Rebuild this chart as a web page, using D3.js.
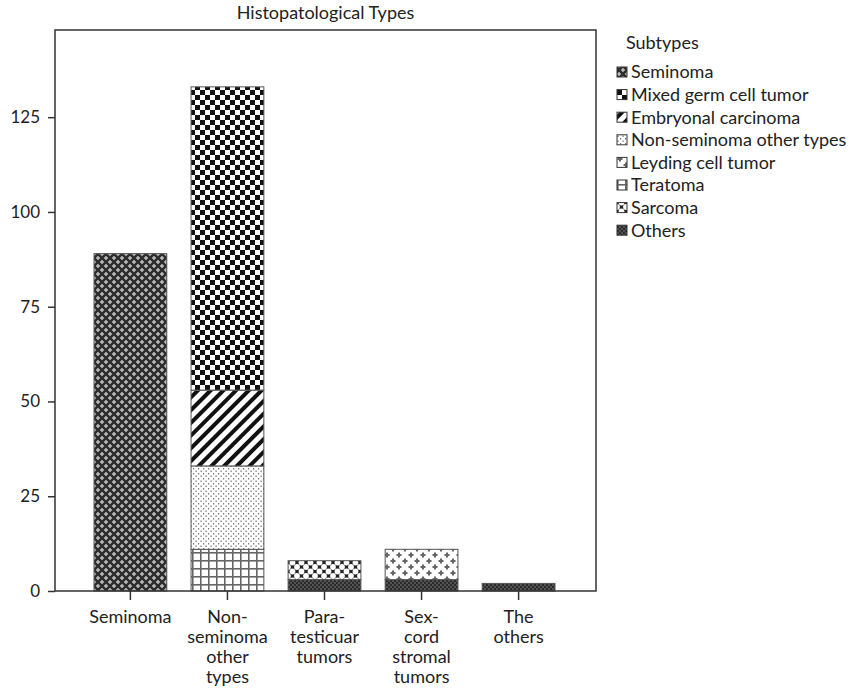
<!DOCTYPE html>
<html>
<head>
<meta charset="utf-8">
<script src="https://cdn.jsdelivr.net/npm/d3@7"></script>
<style>
  body { margin: 0; background: #fff; }
  svg { display: block; font-family: Lato, "Open Sans", sans-serif; }
</style>
</head>
<body>
<div id="chart"></div>
<script>
// Categories on the x axis, with the line breaks used in the labels
const categories = ['Seminoma', 'Non-seminoma other types', 'Para-testicuar tumors', 'Sex-cord stromal tumors', 'The others'];
const categoryLines = [['Seminoma'], ['Non-', 'seminoma', 'other', 'types'], ['Para-', 'testicuar', 'tumors'], ['Sex-', 'cord', 'stromal', 'tumors'], ['The', 'others']];

// Subtypes in legend order
const subtypes = ['Seminoma', 'Mixed germ cell tumor', 'Embryonal carcinoma', 'Non-seminoma other types', 'Leyding cell tumor', 'Teratoma', 'Sarcoma', 'Others'];

// Counts per subtype, one value per category
const seminoma = [89, 0, 0, 0, 0];
const mixedGermCell = [0, 80, 0, 0, 0];
const embryonal = [0, 20, 0, 0, 0];
const nonSeminomaOther = [0, 22, 0, 0, 0];
const leyding = [0, 0, 0, 8, 0];
const teratoma = [0, 11, 0, 0, 0];
const sarcoma = [0, 0, 5, 0, 0];
const others = [0, 0, 3, 3, 2];

const yTicks = [0, 25, 50, 75, 100, 125];

const seriesValues = [seminoma, mixedGermCell, embryonal, nonSeminomaOther, leyding, teratoma, sarcoma, others];
const table = categories.map((c, i) => {
  const row = { category: c };
  subtypes.forEach((s, j) => { row[s] = seriesValues[j][i]; });
  return row;
});

const width = 859, height = 696;
const frame = { left: 55, right: 596, top: 30, bottom: 591 };
const textColor = '#222';

const svg = d3.select('#chart').append('svg')
  .attr('width', width)
  .attr('height', height);

// Fill patterns, one per subtype
const defs = svg.append('defs');
const patternIds = {};
function pattern(key, w, h, build, transform) {
  const id = 'pat' + subtypes.indexOf(key);
  patternIds[key] = id;
  const p = defs.append('pattern')
    .attr('id', id)
    .attr('patternUnits', 'userSpaceOnUse')
    .attr('width', w)
    .attr('height', h);
  if (transform) p.attr('patternTransform', transform);
  build(p);
}

pattern('Seminoma', 8, 8, p => {
  p.append('rect').attr('width', 8).attr('height', 8).attr('fill', '#2e2e2e');
  [[2, 2], [6, 6]].forEach(([cx, cy]) => {
    p.append('rect').attr('x', cx - 2).attr('y', cy - 0.7).attr('width', 4).attr('height', 1.4).attr('fill', '#c4c4c4');
    p.append('rect').attr('x', cx - 0.7).attr('y', cy - 2).attr('width', 1.4).attr('height', 4).attr('fill', '#c4c4c4');
  });
});

pattern('Mixed germ cell tumor', 10, 10, p => {
  p.append('rect').attr('width', 10).attr('height', 10).attr('fill', '#fff');
  p.append('rect').attr('width', 5).attr('height', 5).attr('fill', '#111');
  p.append('rect').attr('x', 5).attr('y', 5).attr('width', 5).attr('height', 5).attr('fill', '#111');
});

pattern('Embryonal carcinoma', 9, 9, p => {
  p.append('rect').attr('width', 9).attr('height', 9).attr('fill', '#fff');
  p.append('rect').attr('width', 4).attr('height', 9).attr('fill', '#111');
}, 'rotate(45)');

pattern('Non-seminoma other types', 5, 5, p => {
  p.append('rect').attr('width', 5).attr('height', 5).attr('fill', '#fff');
  p.append('rect').attr('x', 0.5).attr('y', 0.5).attr('width', 1.2).attr('height', 1.5).attr('fill', '#777');
  p.append('rect').attr('x', 3).attr('y', 3).attr('width', 1.2).attr('height', 1.5).attr('fill', '#777');
});

pattern('Leyding cell tumor', 12, 12, p => {
  p.append('rect').attr('width', 12).attr('height', 12).attr('fill', '#fff');
  [[3, 3], [9, 9]].forEach(([cx, cy]) => {
    p.append('rect').attr('x', cx - 2.5).attr('y', cy - 1).attr('width', 5).attr('height', 2).attr('fill', '#666');
    p.append('rect').attr('x', cx - 1).attr('y', cy - 2.5).attr('width', 2).attr('height', 5).attr('fill', '#666');
  });
});

pattern('Teratoma', 8, 8, p => {
  p.append('rect').attr('width', 8).attr('height', 8).attr('fill', '#fff');
  p.append('rect').attr('x', 0).attr('y', 0).attr('width', 1.6).attr('height', 8).attr('fill', '#666');
  p.append('rect').attr('x', 0).attr('y', 0).attr('width', 8).attr('height', 1.6).attr('fill', '#666');
});

pattern('Sarcoma', 9, 9, p => {
  p.append('rect').attr('width', 9).attr('height', 9).attr('fill', '#222');
  [[0, 0], [9, 0], [0, 9], [9, 9], [4.5, 4.5]].forEach(([cx, cy]) => {
    p.append('circle').attr('cx', cx).attr('cy', cy).attr('r', 2.9).attr('fill', '#fff');
  });
});

pattern('Others', 4, 4, p => {
  p.append('rect').attr('width', 4).attr('height', 4).attr('fill', '#2b2b2b');
  p.append('rect').attr('x', 0.4).attr('y', 0.4).attr('width', 1.2).attr('height', 1.2).attr('fill', '#999');
  p.append('rect').attr('x', 2.4).attr('y', 2.4).attr('width', 1.2).attr('height', 1.2).attr('fill', '#999');
});

// Scales
const x = d3.scaleBand()
  .domain(categories)
  .range([94, 555])
  .paddingInner(0.25)
  .paddingOuter(0);

const y = d3.scaleLinear()
  .domain([0, 148])
  .range([frame.bottom, frame.top]);

// Stack from bottom: reverse of legend order
const stack = d3.stack().keys(subtypes.slice().reverse());
const layers = stack(table);

layers.forEach(layer => {
  svg.append('g')
    .selectAll('rect')
    .data(layer.filter(d => d[1] - d[0] > 0))
    .enter()
    .append('rect')
    .attr('x', d => x(d.data.category))
    .attr('y', d => y(d[1]))
    .attr('width', x.bandwidth())
    .attr('height', d => y(d[0]) - y(d[1]))
    .attr('fill', `url(#${patternIds[layer.key]})`)
    .attr('stroke', '#555')
    .attr('stroke-width', 1);
});

// Frame
svg.append('rect')
  .attr('x', frame.left)
  .attr('y', frame.top)
  .attr('width', frame.right - frame.left)
  .attr('height', frame.bottom - frame.top)
  .attr('fill', 'none')
  .attr('stroke', '#333')
  .attr('stroke-width', 1.5);

// Y axis
const yAxis = svg.append('g')
  .attr('transform', `translate(${frame.left},0)`)
  .call(d3.axisLeft(y).tickValues(yTicks).tickSize(7).tickPadding(8));
yAxis.select('.domain').remove();
yAxis.selectAll('line').attr('stroke', '#333').attr('stroke-width', 1.5);
yAxis.selectAll('text').attr('font-size', 17).attr('fill', textColor).attr('font-family', 'Lato, "Open Sans", sans-serif');

// X axis ticks
const xAxis = svg.append('g')
  .attr('transform', `translate(0,${frame.bottom})`)
  .call(d3.axisBottom(x).tickSize(9).tickFormat(''));
xAxis.select('.domain').remove();
xAxis.selectAll('line').attr('stroke', '#333').attr('stroke-width', 1.5);

// X labels, multi-line
categories.forEach((c, i) => {
  const cx = x(c) + x.bandwidth() / 2;
  const t = svg.append('text')
    .attr('x', cx)
    .attr('y', 623)
    .attr('text-anchor', 'middle')
    .attr('font-size', 18)
    .attr('fill', textColor);
  categoryLines[i].forEach((line, k) => {
    t.append('tspan')
      .attr('x', cx)
      .attr('dy', k === 0 ? 0 : 20)
      .text(line);
  });
});

// Title
svg.append('text')
  .attr('x', (frame.left + frame.right) / 2)
  .attr('y', 19)
  .attr('text-anchor', 'middle')
  .attr('font-size', 18)
  .attr('fill', textColor)
  .text('Histopatological Types');

// Legend
const legend = svg.append('g').attr('transform', 'translate(617, 0)');
legend.append('text')
  .attr('x', 9)
  .attr('y', 49)
  .attr('font-size', 18)
  .attr('fill', textColor)
  .text('Subtypes');

subtypes.forEach((s, i) => {
  const yy = 72 + i * 22.6;
  legend.append('rect')
    .attr('x', 0)
    .attr('y', yy - 5)
    .attr('width', 10)
    .attr('height', 10)
    .attr('fill', `url(#${patternIds[s]})`)
    .attr('stroke', '#333')
    .attr('stroke-width', 1);
  legend.append('text')
    .attr('x', 14)
    .attr('y', yy)
    .attr('dy', '.35em')
    .attr('font-size', 18)
    .attr('fill', textColor)
    .text(s);
});
</script>
</body>
</html>
